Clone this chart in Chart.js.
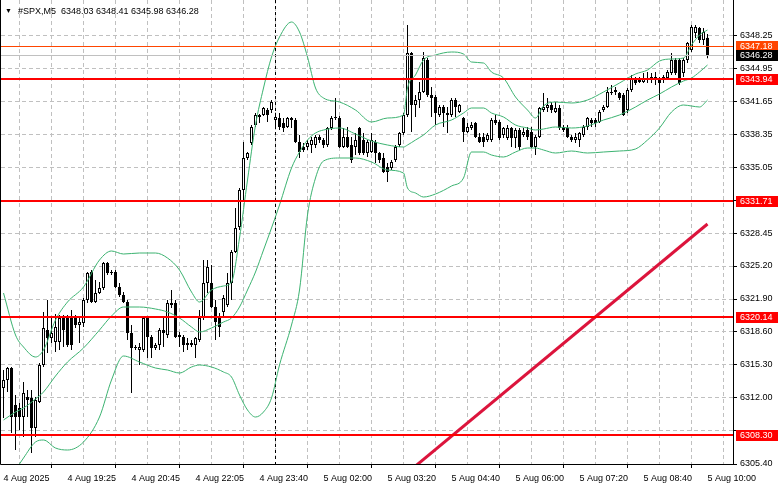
<!DOCTYPE html>
<html>
<head>
<meta charset="utf-8">
<script src="https://cdn.jsdelivr.net/npm/chart.js@4.4.1/dist/chart.umd.min.js"></script>
<style>
  html, body { margin: 0; padding: 0; background: #fff; overflow: hidden; }
  canvas { display: block; }
</style>
</head>
<body>
<canvas id="grafica" width="781" height="489"></canvas>
<script>
/* #SPX M5 chart, MT4 style: candles, Bollinger bands, levels, trendline */

const simbolo = '#SPX,M5';

// time axis: one label every 16 bars, grid every 8 bars
const etiquetasTiempo = ['4 Aug 2025', '4 Aug 19:25', '4 Aug 20:45', '4 Aug 22:05', '4 Aug 23:40',
  '5 Aug 02:00', '5 Aug 03:20', '5 Aug 04:40', '5 Aug 06:00', '5 Aug 07:20', '5 Aug 08:40', '5 Aug 10:00'];
const cadaEtiqueta = 16;
const cadaRejilla = 8;

// price axis labels
const ticksPrecio = [6348.25, 6344.95, 6341.65, 6338.35, 6335.05, 6331.75, 6328.45,
  6325.20, 6321.90, 6318.60, 6315.30, 6312.00, 6308.70, 6305.40];

// OHLC, one entry per 5-minute bar
const aperturas = [
  6313.0, 6313.8, 6315.0, 6311.3, 6311.0, 6310.1, 6312.1, 6312.0, 6309.0, 6311.6,
  6315.3, 6318.8, 6318.0, 6317.6, 6317.6, 6320.0, 6320.0, 6320.0, 6320.0, 6319.3,
  6319.5, 6321.8, 6324.6, 6321.6, 6322.5, 6323.0, 6325.5, 6324.6, 6324.6, 6323.1,
  6322.3, 6321.6, 6318.5, 6317.1, 6316.8, 6316.8, 6320.0, 6318.1, 6317.0, 6317.3,
  6318.8, 6318.3, 6321.3, 6321.5, 6318.3, 6318.1, 6317.5, 6317.3, 6317.3, 6317.8,
  6320.0, 6323.5, 6323.5, 6321.1, 6320.1, 6320.6, 6321.3, 6323.5, 6326.6, 6329.1,
  6332.8, 6336.0, 6337.5, 6339.3, 6340.3, 6340.3, 6340.8, 6340.8, 6339.8, 6340.0,
  6339.5, 6339.1, 6340.0, 6339.8, 6337.6, 6337.1, 6337.1, 6337.3, 6337.3, 6338.1,
  6337.8, 6337.3, 6339.0, 6340.0, 6340.0, 6337.1, 6338.1, 6337.3, 6337.1, 6339.0,
  6337.8, 6336.5, 6336.6, 6337.6, 6336.5, 6336.0, 6335.1, 6335.0, 6335.8, 6337.3,
  6338.5, 6340.3, 6346.5, 6341.3, 6341.8, 6342.6, 6345.8, 6342.3, 6342.1, 6340.3,
  6341.1, 6340.3, 6340.3, 6341.8, 6340.6, 6340.0, 6338.6, 6339.0, 6339.5, 6338.1,
  6338.1, 6337.8, 6337.8, 6339.8, 6339.6, 6338.3, 6338.0, 6339.0, 6338.0, 6338.8,
  6338.3, 6338.8, 6338.6, 6337.1, 6338.1, 6340.8, 6341.0, 6341.3, 6340.6, 6341.0,
  6339.1, 6339.0, 6338.1, 6337.8, 6337.8, 6338.3, 6339.1, 6339.8, 6339.8, 6339.6,
  6340.8, 6341.1, 6342.6, 6342.6, 6342.5, 6342.3, 6340.8, 6342.8, 6344.0, 6344.0,
  6343.6, 6343.8, 6343.8, 6343.8, 6344.0, 6343.8, 6344.0, 6344.5, 6345.8, 6345.8,
  6344.5, 6345.8, 6346.8, 6348.5, 6349.0, 6347.8, 6348.03
];
const maximos = [
  6314.8, 6315.1, 6315.1, 6312.3, 6311.5, 6313.6, 6312.8, 6312.8, 6312.1, 6315.5,
  6320.6, 6321.8, 6320.0, 6320.4, 6320.3, 6320.3, 6320.3, 6320.8, 6320.3, 6320.1,
  6322.0, 6324.6, 6324.8, 6323.8, 6323.6, 6325.6, 6325.6, 6324.8, 6324.8, 6323.5,
  6322.6, 6321.8, 6319.3, 6317.3, 6317.5, 6320.1, 6320.1, 6318.3, 6317.5, 6319.0,
  6320.0, 6321.8, 6322.8, 6321.8, 6318.6, 6318.3, 6318.0, 6317.8, 6318.1, 6320.8,
  6325.8, 6325.8, 6325.3, 6321.8, 6320.5, 6322.3, 6324.5, 6326.8, 6331.0, 6333.0,
  6337.6, 6336.6, 6339.3, 6340.5, 6340.4, 6341.1, 6341.0, 6341.8, 6340.5, 6340.5,
  6340.0, 6340.1, 6340.1, 6340.0, 6338.3, 6337.5, 6337.8, 6338.1, 6338.3, 6338.3,
  6338.0, 6339.1, 6340.2, 6342.0, 6340.2, 6339.0, 6339.1, 6338.1, 6338.5, 6339.1,
  6338.5, 6337.8, 6338.5, 6337.8, 6336.6, 6336.5, 6335.5, 6335.8, 6337.3, 6338.6,
  6340.5, 6349.3, 6346.6, 6342.3, 6343.6, 6346.6, 6346.0, 6343.1, 6342.3, 6341.3,
  6341.3, 6341.1, 6342.0, 6342.0, 6341.4, 6340.1, 6339.5, 6339.6, 6339.6, 6338.5,
  6338.5, 6338.5, 6340.0, 6340.3, 6339.8, 6339.1, 6339.3, 6339.1, 6339.0, 6339.0,
  6339.0, 6339.1, 6339.1, 6338.3, 6341.1, 6342.5, 6342.0, 6341.6, 6341.6, 6341.3,
  6339.3, 6339.3, 6338.3, 6338.5, 6338.6, 6339.3, 6340.1, 6340.0, 6340.0, 6340.8,
  6341.3, 6343.1, 6343.3, 6343.1, 6342.6, 6342.5, 6343.0, 6344.3, 6344.1, 6344.1,
  6344.5, 6344.6, 6344.5, 6344.6, 6344.1, 6344.3, 6344.8, 6346.5, 6346.0, 6346.0,
  6346.0, 6347.6, 6349.3, 6349.3, 6349.1, 6349.0, 6348.41
];
const minimos = [
  6310.0, 6312.6, 6308.5, 6306.8, 6308.8, 6308.1, 6310.1, 6306.5, 6308.1, 6311.5,
  6315.1, 6316.5, 6317.5, 6316.6, 6316.8, 6317.1, 6317.1, 6316.8, 6319.0, 6317.5,
  6319.1, 6321.5, 6321.5, 6321.5, 6322.4, 6322.8, 6324.3, 6324.3, 6323.0, 6322.1,
  6321.5, 6317.8, 6312.5, 6316.8, 6315.3, 6316.6, 6316.0, 6316.0, 6316.8, 6316.8,
  6317.1, 6318.0, 6321.0, 6318.0, 6317.1, 6316.6, 6316.8, 6317.1, 6316.0, 6317.6,
  6319.8, 6322.5, 6321.0, 6317.8, 6318.1, 6320.1, 6321.1, 6321.8, 6326.5, 6328.8,
  6331.8, 6335.8, 6337.3, 6339.1, 6339.5, 6340.2, 6339.6, 6340.5, 6339.0, 6338.8,
  6338.6, 6339.0, 6339.0, 6337.5, 6336.0, 6336.6, 6336.8, 6336.5, 6337.0, 6337.5,
  6337.0, 6337.1, 6338.8, 6339.8, 6337.0, 6337.0, 6337.0, 6335.5, 6336.3, 6336.3,
  6336.3, 6336.1, 6336.5, 6335.5, 6335.5, 6334.5, 6333.6, 6334.8, 6335.6, 6337.1,
  6338.3, 6340.1, 6338.6, 6340.1, 6341.0, 6342.5, 6342.1, 6340.1, 6339.3, 6340.1,
  6339.1, 6338.5, 6340.1, 6340.1, 6340.5, 6337.6, 6338.5, 6338.8, 6338.0, 6337.5,
  6337.1, 6337.6, 6337.6, 6339.3, 6337.8, 6338.0, 6337.8, 6337.1, 6337.0, 6336.8,
  6338.1, 6337.8, 6337.0, 6336.3, 6338.0, 6340.6, 6340.6, 6340.5, 6340.5, 6338.8,
  6338.6, 6338.0, 6337.6, 6337.5, 6337.1, 6338.1, 6338.8, 6339.1, 6339.1, 6339.5,
  6340.6, 6341.0, 6342.3, 6342.3, 6341.8, 6340.2, 6340.5, 6342.6, 6343.3, 6343.5,
  6343.5, 6343.5, 6343.5, 6343.3, 6341.8, 6343.5, 6343.8, 6344.3, 6344.3, 6343.3,
  6344.1, 6345.5, 6346.6, 6348.0, 6347.5, 6347.3, 6345.98
];
const cierres = [
  6313.8, 6315.0, 6310.1, 6310.1, 6310.1, 6312.5, 6311.8, 6309.0, 6311.8, 6315.3,
  6319.0, 6318.0, 6318.5, 6319.1, 6320.0, 6318.8, 6317.3, 6317.3, 6319.3, 6319.6,
  6321.8, 6324.5, 6321.6, 6322.5, 6323.0, 6325.5, 6324.5, 6324.5, 6323.1, 6322.3,
  6321.6, 6318.5, 6317.0, 6317.0, 6317.1, 6320.0, 6318.1, 6317.0, 6317.3, 6318.8,
  6318.5, 6321.5, 6321.5, 6318.1, 6318.1, 6317.3, 6317.3, 6317.5, 6318.0, 6320.0,
  6323.5, 6325.1, 6321.1, 6319.6, 6319.1, 6322.0, 6323.5, 6326.6, 6329.0, 6332.8,
  6336.0, 6336.5, 6339.1, 6340.3, 6340.1, 6341.0, 6340.3, 6341.6, 6340.1, 6339.1,
  6339.0, 6340.0, 6339.8, 6337.6, 6336.6, 6336.8, 6337.5, 6337.8, 6338.1, 6337.8,
  6337.3, 6339.0, 6340.0, 6340.1, 6337.1, 6338.1, 6337.1, 6335.8, 6337.8, 6336.5,
  6336.5, 6337.6, 6337.8, 6336.5, 6335.8, 6334.6, 6334.6, 6335.6, 6337.1, 6338.5,
  6340.3, 6346.5, 6341.3, 6341.8, 6342.6, 6346.0, 6342.3, 6342.0, 6340.5, 6341.1,
  6340.5, 6340.5, 6341.8, 6341.1, 6341.3, 6338.6, 6339.1, 6339.3, 6338.1, 6337.6,
  6337.6, 6338.3, 6339.8, 6339.5, 6338.0, 6339.0, 6339.0, 6338.0, 6338.8, 6337.1,
  6338.6, 6338.1, 6337.1, 6338.1, 6341.0, 6341.1, 6341.3, 6340.8, 6341.0, 6339.0,
  6338.8, 6338.1, 6337.8, 6338.1, 6338.5, 6339.1, 6340.0, 6339.5, 6339.5, 6340.6,
  6341.1, 6342.6, 6342.5, 6342.8, 6342.0, 6340.3, 6342.8, 6344.0, 6343.5, 6343.6,
  6344.0, 6344.0, 6344.1, 6344.1, 6343.5, 6344.1, 6344.6, 6345.8, 6344.5, 6343.5,
  6345.8, 6347.5, 6349.1, 6349.1, 6347.8, 6348.6, 6346.28
];

// Bollinger bands, read at these bar indices
const indicesBanda = [0, 3, 5, 8, 10, 13, 16, 20, 24, 27, 30, 34, 38, 41, 44, 47, 49, 52, 55, 57,
  59, 61, 63, 65, 67, 69, 72, 74, 76, 78, 80, 84, 88, 92, 96, 100, 101, 103, 105, 108,
  112, 115, 117, 120, 122, 125, 128, 131, 133, 135, 138, 142, 146, 150, 154, 158, 161, 164, 167, 170,
  172, 174, 176];
const bandaSuperior = [6322.5, 6318.3, 6317.1, 6316.1, 6316.8, 6319.8, 6321.6, 6323.1, 6325.8, 6326.7,
  6326.4, 6326.5, 6326.5, 6326.0, 6324.8, 6322.6, 6321.6, 6322.8, 6323.2, 6323.6,
  6328.0, 6333.8, 6339.3, 6343.0, 6346.1, 6348.1, 6349.6, 6348.6, 6346.1, 6343.0,
  6342.0, 6341.6, 6340.8, 6339.6, 6340.0, 6340.3, 6343.0, 6344.3, 6345.8, 6346.3,
  6346.6, 6346.4, 6345.6, 6345.5, 6344.6, 6344.0, 6342.1, 6340.8, 6340.0, 6341.2,
  6341.6, 6341.5, 6341.8, 6342.6, 6343.5, 6344.4, 6344.8, 6345.7, 6345.9, 6346.0,
  6347.3, 6348.3, 6348.8];
const bandaMedia = [6309.8, 6310.6, 6311.0, 6311.9, 6312.6, 6314.2, 6315.6, 6317.0, 6318.8, 6320.2,
  6321.1, 6321.1, 6320.9, 6320.6, 6320.0, 6319.1, 6318.6, 6319.0, 6319.6, 6320.0,
  6321.1, 6322.8, 6324.6, 6326.8, 6329.0, 6331.3, 6335.0, 6336.6, 6337.8, 6338.5,
  6338.8, 6339.0, 6338.4, 6337.7, 6337.3, 6337.1, 6337.3, 6337.8, 6338.3, 6339.3,
  6339.8, 6340.5, 6341.0, 6341.0, 6340.5, 6340.1, 6339.3, 6339.0, 6338.8, 6338.9,
  6339.1, 6339.0, 6339.2, 6339.8, 6340.3, 6341.1, 6341.8, 6342.4, 6343.1, 6343.7,
  6344.0, 6344.6, 6345.3];
const bandaInferior = [6303.0, 6304.8, 6306.0, 6307.6, 6307.8, 6307.0, 6306.8, 6307.6, 6310.1, 6313.8,
  6316.2, 6315.6, 6315.0, 6314.8, 6314.5, 6315.1, 6315.3, 6315.1, 6314.6, 6314.1,
  6312.3, 6310.8, 6310.1, 6310.6, 6312.0, 6315.3, 6319.3, 6322.8, 6330.3, 6334.0,
  6335.7, 6336.0, 6336.0, 6335.6, 6334.8, 6334.5, 6333.0, 6332.5, 6332.1, 6332.4,
  6333.2, 6334.0, 6336.6, 6336.6, 6336.3, 6336.1, 6336.6, 6337.0, 6337.0, 6336.8,
  6336.5, 6336.7, 6336.5, 6336.6, 6336.7, 6336.9, 6337.8, 6339.0, 6340.6, 6341.3,
  6341.2, 6341.1, 6341.8];

// horizontal levels, ask line, trendline, day separator
const niveles = [6343.94, 6331.71, 6320.14, 6308.30];
const precioAsk = 6347.18;
const indicesTendencia = [100, 176];
const preciosTendencia = [6304.2, 6329.4];
const barraSeparador = 68;

const FAMILIA = '"Liberation Sans", Arial, sans-serif';
const VERDE = '#3cb371';
const REJILLA = '#c0c0c0';

const fmt = v => v.toFixed(2);

// an axis label is hidden when a price box sits on top of it
const preciosConCaja = () => niveles.concat([precioAsk, cierres[cierres.length - 1]]);
const tapada = v => preciosConCaja().some(p => Math.abs(p - v) < 0.8);

/* --- Overlay: separator, levels, frame, price boxes, header ------------- */
const capaMT4 = {
  id: 'capaMT4',
  beforeDraw(chart) {
    const { ctx, width, height } = chart;
    ctx.save();
    ctx.fillStyle = '#fff';
    ctx.fillRect(0, 0, width, height);
    ctx.restore();
  },
  beforeDatasetsDraw(chart) {
    const { ctx, chartArea: a, scales: { x } } = chart;
    const px = Math.floor(x.getPixelForValue(barraSeparador)) + 0.5;
    ctx.save();
    ctx.strokeStyle = '#000';
    ctx.lineWidth = 1;
    ctx.setLineDash([3, 3]);
    ctx.beginPath();
    ctx.moveTo(px, a.top);
    ctx.lineTo(px, a.bottom);
    ctx.stroke();
    ctx.restore();
  },
  afterDatasetsDraw(chart) {
    const { ctx, chartArea: a, scales: { y } } = chart;
    const bid = cierres[cierres.length - 1];
    ctx.save();
    ctx.beginPath();
    ctx.rect(a.left, a.top, a.width, a.height);
    ctx.clip();
    // bid (silver) and ask (orange-red) lines
    ctx.fillStyle = REJILLA;
    ctx.fillRect(a.left, Math.round(y.getPixelForValue(bid)), a.width, 1);
    ctx.fillStyle = '#ff4500';
    ctx.fillRect(a.left, Math.round(y.getPixelForValue(precioAsk)), a.width, 1);
    // support / resistance levels
    ctx.fillStyle = '#ff0000';
    niveles.forEach(v => {
      ctx.fillRect(a.left, Math.round(y.getPixelForValue(v)) - 1, a.width, 2);
    });
    ctx.restore();
  },
  afterDraw(chart) {
    const { ctx, chartArea: a, scales: { y } } = chart;
    ctx.save();
    // frame
    ctx.strokeStyle = '#000';
    ctx.lineWidth = 1;
    ctx.beginPath();
    ctx.moveTo(0.5, a.top);
    ctx.lineTo(0.5, a.bottom + 0.5);
    ctx.lineTo(a.right + 0.5, a.bottom + 0.5);
    ctx.lineTo(a.right + 0.5, a.top);
    ctx.stroke();

    // price boxes on the right axis
    ctx.font = `9px ${FAMILIA}`;
    ctx.textBaseline = 'middle';
    ctx.textAlign = 'left';
    const caja = (v, fondo, texto) => {
      const py = Math.round(y.getPixelForValue(v));
      ctx.fillStyle = fondo;
      ctx.fillRect(a.right + 3, py - 5, 42, 11);
      ctx.fillStyle = texto;
      ctx.fillText(fmt(v), a.right + 7, py + 0.5);
    };
    niveles.forEach(v => caja(v, '#ff0000', '#fff'));
    caja(precioAsk, '#ff4500', '#fff');
    caja(cierres[cierres.length - 1], '#000', '#fff');

    // header
    const n = cierres.length - 1;
    ctx.fillStyle = '#000';
    ctx.textBaseline = 'alphabetic';
    ctx.font = `7px ${FAMILIA}`;
    ctx.fillText('▼', 5, 13);
    ctx.font = `9px ${FAMILIA}`;
    ctx.fillText(`${simbolo}  ${fmt(aperturas[n])} ${fmt(maximos[n])} ${fmt(minimos[n])} ${fmt(cierres[n])}`, 18, 14);
    ctx.restore();
  }
};

/* --- Datasets ------------------------------------------------------------ */
const linea = (valores, color) => ({
  type: 'line',
  data: indicesBanda.map((k, i) => ({ x: k, y: valores[i] })),
  borderColor: color,
  borderWidth: 1,
  pointRadius: 0,
  cubicInterpolationMode: 'monotone',
  clip: 0,
  order: 0
});

new Chart(document.getElementById('grafica'), {
  type: 'bar',
  data: {
    datasets: [
      linea(bandaSuperior, VERDE),
      linea(bandaMedia, VERDE),
      linea(bandaInferior, VERDE),
      {
        type: 'line',
        data: indicesTendencia.map((k, i) => ({ x: k, y: preciosTendencia[i] })),
        borderColor: '#dc143c',
        borderWidth: 3,
        pointRadius: 0,
        clip: 0,
        order: 0
      },
      {
        type: 'bar',
        data: maximos.map((h, i) => ({ x: i, y: [minimos[i], h] })),
        backgroundColor: '#000',
        borderWidth: 0,
        barThickness: 1,
        grouped: false,
        inflateAmount: 0,
        clip: 0,
        order: 2
      },
      {
        type: 'bar',
        data: aperturas.map((o, i) => ({ x: i, y: [o, cierres[i]] })),
        backgroundColor: aperturas.map((o, i) => (cierres[i] >= o ? '#fff' : '#000')),
        borderColor: '#000',
        borderWidth: 1,
        borderSkipped: false,
        barThickness: 3,
        grouped: false,
        inflateAmount: 0,
        minBarLength: 1,
        clip: 0,
        order: 1
      }
    ]
  },
  options: {
    responsive: false,
    animation: false,
    devicePixelRatio: 1,
    events: [],
    layout: { padding: { left: 1, right: 0, top: 0, bottom: 0 }, autoPadding: false },
    plugins: { legend: { display: false }, tooltip: { enabled: false } },
    scales: {
      x: {
        type: 'linear',
        min: -0.625,
        max: 182.375,
        offset: false,
        afterBuildTicks(s) {
          const t = [];
          for (let k = 0; k < aperturas.length; k += cadaRejilla) t.push({ value: k });
          s.ticks = t;
        },
        afterFit(s) { s.height = 25; s.paddingLeft = 0; s.paddingRight = 0; },
        ticks: {
          autoSkip: false,
          maxRotation: 0,
          align: 'start',
          padding: 5,
          color: '#000',
          font: { family: FAMILIA, size: 9 },
          callback: v => (v % cadaEtiqueta === 0 ? etiquetasTiempo[v / cadaEtiqueta] : '')
        },
        grid: {
          color: c => (c.tick && c.tick.value === 0 ? 'rgba(0,0,0,0)' : REJILLA),
          lineWidth: 1,
          tickLength: 4,
          tickWidth: 1,
          tickBorderDash: [],
          tickColor: c => (c.tick && c.tick.value % cadaEtiqueta === 0 ? '#000' : 'rgba(0,0,0,0)')
        },
        border: { display: false, dash: [4, 3] }
      },
      y: {
        type: 'linear',
        position: 'right',
        min: 6305.4,
        max: 6351.8,
        afterBuildTicks(s) { s.ticks = ticksPrecio.map(v => ({ value: v })); },
        afterFit(s) { s.width = 48; s.paddingTop = 0; s.paddingBottom = 0; },
        ticks: {
          padding: 3,
          color: '#000',
          font: { family: FAMILIA, size: 9 },
          callback: v => (tapada(v) ? '' : fmt(v))
        },
        grid: {
          color: REJILLA,
          lineWidth: 1,
          tickLength: 4,
          tickWidth: 1,
          tickBorderDash: [],
          tickColor: '#000'
        },
        border: { display: false, dash: [4, 3] }
      }
    }
  },
  plugins: [capaMT4]
});
</script>
</body>
</html>
